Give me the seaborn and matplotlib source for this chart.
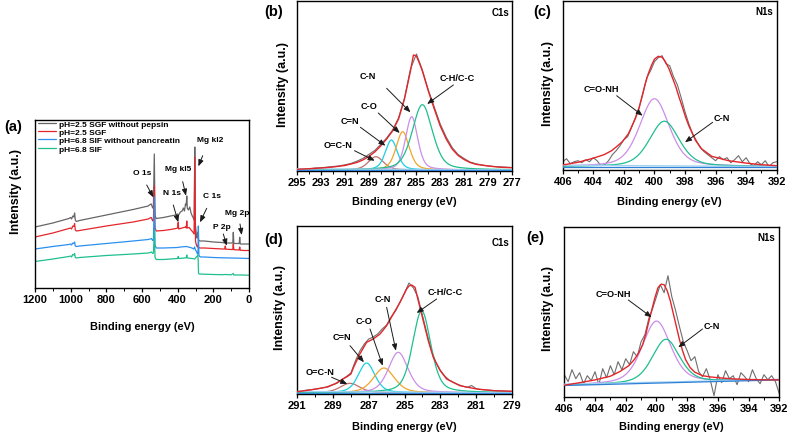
import numpy as np
import pandas as pd
import matplotlib
matplotlib.use("Agg")
import matplotlib.pyplot as plt
import seaborn as sns

# ---------------------------------------------------------------- data
# (a) survey spectra, binding energy (eV) and intensity (a.u.)
samples = ["pH=2.5 SGF without pepsin", "pH=2.5 SGF",
           "pH=6.8 SIF without pancreatin", "pH=6.8 SIF"]
a_gray_E = [1200, 1100, 1010, 1000, 995, 988, 982, 978, 974, 968, 950, 800, 650, 565, 555, 548, 540, 536, 531, 527,
            520, 480, 440, 410, 400, 396, 385, 375, 368, 362, 356, 352, 349, 346, 340, 332, 325, 318, 312, 307,
            304, 301, 296, 292, 288, 286, 283, 275, 250, 200, 150, 136, 133, 130, 100, 91, 88, 85, 55, 52, 49, 30, 0]
a_gray_I = [61, 65, 69.5, 70.5, 69, 72, 71, 75, 68, 66.5, 67.5, 73, 78.5, 82, 83.5, 84, 80, 82, 134, 72,
            69.5, 70.5, 72, 73, 74, 72.5, 76, 77, 80, 77, 84, 83, 92, 80, 78, 81, 75, 72, 70, 68,
            141, 64, 55, 50, 52, 56, 48, 47, 47, 46, 45.5, 45, 47.5, 45, 45, 45, 55.7, 44.5, 44.5, 50.7, 44, 44, 44]
a_red_E = [1200, 1100, 1010, 1000, 995, 988, 982, 978, 974, 968, 950, 800, 650, 565, 555, 548, 540, 536, 531, 527,
           520, 480, 440, 410, 400, 397, 394, 385, 365, 356, 352, 349, 346, 335, 325, 315, 308, 304, 300, 295,
           290, 286, 283, 275, 250, 200, 150, 136, 133, 130, 100, 91, 88, 85, 55, 52, 49, 25, 0]
a_red_I = [51, 55, 59.5, 60, 59, 62, 61.5, 64.5, 58, 57, 57.5, 62, 66, 69, 70, 70.5, 67, 68, 102, 60,
           57, 57.5, 58.5, 59.5, 60, 65.5, 59, 59.5, 60.5, 61, 60, 67, 60, 60.5, 58, 56, 54, 131, 47, 43,
           41, 43, 40.5, 40, 40, 39.5, 39, 39, 42, 38.8, 38.5, 38.5, 44, 38.3, 38, 41, 37.8, 37.5, 37.5]
a_blue_E = [1200, 1100, 1010, 1000, 995, 988, 982, 978, 974, 968, 950, 800, 650, 565, 555, 548, 540, 536, 531, 527,
            520, 480, 400, 385, 350, 340, 320, 310, 305, 300, 293, 289, 286, 284, 281, 277, 270, 250, 200, 150,
            100, 50, 0]
a_blue_I = [39, 41.5, 43.5, 44, 43, 45, 44.5, 46, 42, 41.5, 42, 44.5, 47, 48.5, 49, 49.5, 47.5, 48, 91, 43,
            40, 40, 40.5, 41, 41.5, 41, 40, 39, 41, 38, 36, 34, 36, 62, 33, 31.5, 31, 31, 30.5, 30.2,
            30, 29.8, 29.5]
a_green_E = [1200, 1100, 1010, 1000, 995, 988, 982, 978, 974, 968, 950, 800, 650, 565, 555, 548, 540, 536, 531, 527,
             520, 480, 440, 400, 397, 394, 360, 352, 349, 346, 320, 305, 300, 295, 290, 287, 285, 283, 280, 250,
             200, 150, 133, 100, 88, 85, 50, 0]
a_green_I = [26.5, 29, 31.5, 32, 31, 33.5, 33, 34.5, 30.5, 30, 30.5, 32.5, 34, 35, 35.5, 36, 34.5, 35, 58, 30.5,
             28.5, 28.5, 29, 29.5, 31.5, 29.5, 30, 30.2, 33, 30, 29.5, 29, 30, 31, 32, 33, 28, 15, 14, 13.8,
             13.5, 13.3, 13.5, 13.2, 14.5, 13, 13, 12.8]
a_ticks = [1200, 1000, 800, 600, 400, 200, 0]

# (b) C1s, pH=2.5
b_raw_I = [2.0, 2.5, 2.2, 3.0, 3.3, 3.8, 4.5, 5.0, 6.2, 7.5, 9.8, 12.5, 16.5, 20.5, 26.5, 33, 41, 53, 73, 102,
           117, 101, 81, 64, 47, 34, 23.5, 16.5, 12.5, 9, 7.2, 6, 5.2, 4.5, 4.2, 3.8, 3.5]      # 295 -> 277, 0.5 eV
b_env_E = [295, 294, 293, 292, 291, 290.5, 290, 289.5, 289, 288.5, 288, 287.5, 287, 286.5, 286, 285.75, 285.5,
           285.25, 285.0, 284.75, 284.5, 284.25, 284, 283.5, 283, 282.5, 282, 281.5, 281, 280.5, 280, 279, 278, 277]
b_env_I = [1.7, 2.3, 3.0, 4.0, 5.5, 7.0, 8.5, 11, 14.5, 19, 25, 32, 40, 52, 72, 86, 100,
           116, 115, 108, 100, 90, 80, 62, 45, 32, 22, 15.5, 11.5, 8.5, 6.7, 5, 3.8, 3.3]
c1s_names = ["O=C-N", "C=N", "C-O", "C-N", "C-H/C-C"]
b_center = [288.4, 287.1, 286.15, 285.4, 284.5]
b_height = [13.3, 30.0, 38.3, 53.3, 65.3]
b_fwhm = [1.5, 1.2, 1.3, 1.2, 2.0]
b_bg_E = [295, 277]
b_bg_light = [2.2, 1.0]
b_bg_dark = [1.0, 1.0]
b_ticks = [295, 293, 291, 289, 287, 285, 283, 281, 279, 277]

# (c) N1s, pH=2.5
c_raw_I = [8, 11, 6, 8, 9, 7, 10, 8, 12, 9, 4, 5, 9, 15, 19, 24, 30, 33, 42, 52,
           62, 76, 92, 99, 108, 112, 114, 106, 104, 93, 85, 72, 58, 46, 36, 29, 22, 18, 15, 12,
           9, 13, 10, 12, 7, 10, 14, 8, 12, 6, 4, 8, 5, 9, 3, 7, 8]                              # 406 -> 392, 0.25 eV
c_env_E = [406, 405, 404, 403.3, 402.8, 402.4, 402.1, 401.7, 401.25, 401.0, 400.8, 400.6, 400.4, 400.2, 400.0,
           399.75, 399.5, 399.3, 399.05, 398.8, 398.6, 398.4, 398.2, 397.95, 397.75, 397.3, 396.9, 396.25,
           395.15, 394.05, 393.0, 392.0]
c_env_I = [4.7, 7.4, 11.5, 15, 19, 24, 28, 36, 51, 62, 74, 86, 96, 104, 110.5,
           113.4, 112.5, 108.5, 101, 91, 83, 73, 64, 52, 44, 29, 20.7, 13.4,
           9, 6.7, 5, 4]
n1s_names = ["C=O-NH", "C-N"]
c_center = [400.0, 399.35]
c_height = [68.0, 45.5]
c_fwhm = [2.3, 2.3]
c_bg_E = [406, 392]
c_bg_light = [4.5, 3.2]
c_bg_dark = [3.0, 3.0]
n_ticks = [406, 404, 402, 400, 398, 396, 394, 392]

# (d) C1s, pH=6.8
d_raw_I = [2.5, 3.0, 3.8, 4.2, 4.8, 5.5, 6.5, 7.2, 9.5, 11, 14.5, 17.5, 21, 33, 43, 50, 55, 57, 60, 65,
           69, 77, 83, 92, 101, 111, 106, 97, 79, 61, 44, 32, 24, 18, 14, 11.5, 9.5, 8, 6.5, 8.5,
           5.5, 4.5, 4.2, 3.8, 3.5, 3.2, 3.0, 2.8, 2.6]                                            # 291 -> 279, 0.25 eV
d_env_E = [291, 290.3, 289.4, 288.9, 288.45, 288.2, 288.0, 287.85, 287.5, 287.12, 286.75, 286.37, 286.0,
           285.63, 285.25, 284.88, 284.75, 284.6, 284.41, 284.23, 283.95, 283.67, 283.39, 283.0, 282.64,
           281.9, 280.96, 280.0, 279.0]
d_env_I = [2.3, 4, 6.7, 10, 15, 17.5, 20, 26.7, 40, 51.7, 55, 60, 68.3,
           80, 91.7, 105, 108, 109, 106.7, 93.3, 73.3, 53.3, 36.7, 23.3, 15,
           8.3, 5, 3.3, 2.7]
d_center = [288.05, 287.12, 286.15, 285.35, 284.04]
d_height = [9.5, 29.8, 24.8, 40.5, 82.0]
d_fwhm = [1.3, 1.1, 1.4, 1.3, 1.2]
d_bg_E = [291, 279]
d_bg_light = [2.5, 1.2]
d_bg_dark = [1.2, 1.2]
d_ticks = [291, 289, 287, 285, 283, 281, 279]

# (e) N1s, pH=6.8
e_raw_I = [22, 15, 27, 18, 24, 13, 21, 16, 25, 12, 28, 19, 31, 22, 35, 27, 38, 32, 45, 40,
           55, 62, 78, 88, 100, 112, 104, 121, 100, 86, 70, 55, 46, 36, 40, 25, 20, 28, 17, 1,
           22, 14, 26, 18, 21, 12, 24, 20, 15, 27, 18, 13, 22, 17, 21, 15, 3]                      # 406 -> 392, 0.25 eV
e_env_E = [406, 405, 404, 403, 402.4, 401.8, 401.45, 401.15, 400.9, 400.7, 400.5, 400.3, 400.1, 399.9, 399.7,
           399.5, 399.3, 399.1, 398.9, 398.7, 398.5, 398.3, 398.1, 397.8, 397.5, 397.0, 396.5, 396.0, 395.0,
           394.0, 393.0, 392.0]
e_env_I = [11.5, 14, 16.8, 20.5, 25, 31, 37, 44, 52, 62, 75, 87, 99, 109, 112.5,
           112, 106, 96, 83, 70, 57, 46, 37, 29, 24.5, 21, 19.8, 19, 17.8,
           17.2, 16.9, 16.8]
e_center = [400.0, 399.38]
e_height = [62.0, 43.6]
e_fwhm = [2.2, 2.1]
e_bg_E = [406, 392]
e_bg_light = [12.5, 17.2]
e_bg_dark = [11.2, 16.8]

# ---------------------------------------------------------------- style
sns.set_theme(style="ticks")
plt.rcParams["font.family"] = ["Liberation Sans", "DejaVu Sans"]
plt.rcParams.update({
    "font.weight": "bold", "axes.labelweight": "bold", "axes.linewidth": 1.0,
    "axes.edgecolor": "black", "xtick.color": "black", "ytick.color": "black",
    "text.color": "black", "axes.labelcolor": "black",
})

RAW = "#6e6e6e"
ENV = "#e3262b"
COMP = ["#c07272", "#1dcfe0", "#f0a52c", "#cc8ee8", "#1fbf8f"]
NCOMP = ["#cc8ee8", "#1fbf8f"]
BGL = "#a3d3f2"
BGD = "#2f80d6"
SURV = ["#666666", "#e3262b", "#2b8ff0", "#1fbf8f"]

W, H = 789, 435
fig = plt.figure(figsize=(W / 100, H / 100), dpi=100)


def add_ax(x0, y0, x1, y1):
    return fig.add_axes([x0 / W, 1 - y1 / H, (x1 - x0) / W, (y1 - y0) / H])


def line(ax, x, y, color, lw=0.9, z=2):
    sns.lineplot(x=np.asarray(x, float), y=np.asarray(y, float), ax=ax, color=color, lw=lw,
                 sort=False, estimator=None, legend=False, zorder=z)


def pv(E, c, h, w, eta=0.4):
    x = (E - c) / (w / 2.0)
    return h * (eta / (1 + x ** 2) + (1 - eta) * np.exp(-np.log(2) * x ** 2))


def style(ax, xlim, ytop, ticks, minor, xl_off, yl_x, yl_y):
    ax.set_xlim(*xlim)
    ax.set_ylim(0, ytop)
    ax.set_xticks(ticks)
    ax.set_xticks(minor, minor=True)
    ax.set_yticks([])
    ax.tick_params(axis="x", which="major", direction="out", length=3, width=0.9,
                   labelsize=8, pad=1.5)
    ax.tick_params(axis="x", which="minor", direction="out", length=1.8, width=0.7)
    for s in ax.spines.values():
        s.set_visible(True)
        s.set_linewidth(1.0)
        s.set_color("black")
    ax.set_xlabel("Binding energy (eV)", fontsize=7.9, fontweight="bold")
    ax.xaxis.label.set_va("center")
    ax.xaxis.set_label_coords(0.5, xl_off)
    ax.set_ylabel("Intensity (a.u.)", fontsize=9, fontweight="bold")
    ax.yaxis.label.set_va("center")
    ax.yaxis.set_label_coords(yl_x, yl_y)


def arrow(ax, tail, head):
    ax.annotate("", xy=head, xytext=tail,
                arrowprops=dict(arrowstyle="-|>,head_length=0.55,head_width=0.22", color="#1a1a1a",
                                lw=0.7, shrinkA=0, shrinkB=0, mutation_scale=7), zorder=6)


def label(ax, text, pos, size=6.6):
    ax.text(pos[0], pos[1], text, fontsize=size, fontweight="bold", ha="center", va="center", zorder=6)


def ptext(x, y, s, size=10.5, ha="center"):
    fig.text(x / W, 1 - y / H, s, fontsize=size, fontweight="bold", ha=ha, va="center")


def fit_panel(ax, raw_E, raw_I, env_E, env_I, centers, heights, fwhms, colors, bgE, bgl, bgd, lo, hi):
    line(ax, raw_E, raw_I, RAW, lw=0.8, z=2)
    grid = np.linspace(lo, hi, 500)
    base = np.interp(grid, bgE[::-1], bgd[::-1])
    for c, h, w, col in zip(centers, heights, fwhms, colors):
        line(ax, grid, base + pv(grid, c, h, w), col, lw=0.9, z=3)
    line(ax, bgE, bgl, BGL, lw=1.0, z=3)
    line(ax, bgE, bgd, BGD, lw=0.9, z=3)
    line(ax, env_E, env_I, ENV, lw=1.0, z=4)


# ---------------------------------------------------------------- (a)
axA = add_ax(35, 121, 249, 289)
frames = []
for name, E, I in zip(samples, [a_gray_E, a_red_E, a_blue_E, a_green_E],
                      [a_gray_I, a_red_I, a_blue_I, a_green_I]):
    frames.append(pd.DataFrame({"E": E, "I": I, "Sample": name}))
dfA = pd.concat(frames, ignore_index=True)
sns.lineplot(data=dfA, x="E", y="I", hue="Sample", hue_order=samples, palette=SURV,
             sort=False, estimator=None, lw=0.9, ax=axA)
style(axA, (1200, 0), 168, a_ticks, np.arange(0, 1201, 100), -38 / 168, -19 / 214, 0.583)
h, l = axA.get_legend_handles_labels()
axA.legend(h, l, loc="upper left", bbox_to_anchor=(0.0, 1.02), frameon=False,
           handlelength=2.1, handletextpad=0.4, labelspacing=0.05, borderaxespad=0.0,
           prop={"weight": "bold", "size": 6.0})
ann_a = [("O 1s", (601.7, 115.7), (573.6, 103), (536.6, 90.7)),
         ("N 1s", (433.4, 95.7), (424.5, 83), (396.4, 65.7)),
         ("Mg kl5", (396.4, 119.7), (371.8, 106.3), (353.3, 92.3)),
         ("Mg kl2", (218.7, 149), (259.6, 132.3), (284.0, 121.7)),
         ("C 1s", (209.1, 92.3), (237.2, 79.7), (274.7, 65.7)),
         ("P 2p", (153.0, 61.3), (144.0, 54.0), (125.0, 42.3)),
         ("Mg 2p", (65.6, 75.7), (50.5, 64.0), (41.0, 53.0))]
for t, p, tail, head in ann_a:
    label(axA, t, p, size=6.0)
    arrow(axA, tail, head)
ptext(13, 127, "(a)")

# ---------------------------------------------------------------- (b)
axB = add_ax(297.3, 1.5, 511.7, 172)
fit_panel(axB, np.arange(295, 276.9, -0.5), b_raw_I, b_env_E, b_env_I, b_center, b_height, b_fwhm,
          COMP, b_bg_E, b_bg_light, b_bg_dark, 277, 295)
style(axB, (295, 277), 170.5, b_ticks, np.arange(277, 296, 1), -30 / 170.5, -0.068, 0.516)
for t, p, tail, head in [("C-N", (289.1, 95.3), (287.5, 82.7), (285.5, 58.7)),
                         ("C-O", (289.0, 66.0), (288.2, 58.0), (286.4, 38.0)),
                         ("C=N", (290.6, 50.3), (289.7, 43.7), (287.6, 25.3)),
                         ("O=C-N", (291.6, 26.3), (290.2, 20.3), (288.5, 10.3)),
                         ("C-H/C-C", (281.6, 93.7), (281.9, 86.0), (284.1, 67.0))]:
    label(axB, t, p)
    arrow(axB, tail, head)
ptext(274, 11.7, "(b)")
ptext(509.5, 12.7, "C1s", size=7, ha="right")

# ---------------------------------------------------------------- (c)
axC = add_ax(562.7, 2, 776.7, 170.7)
fit_panel(axC, np.arange(406, 391.9, -0.25), c_raw_I, c_env_E, c_env_I, c_center, c_height, c_fwhm,
          NCOMP, c_bg_E, c_bg_light, c_bg_dark, 392, 406)
style(axC, (406, 392), 168.7, n_ticks, np.arange(392, 407, 1), -31 / 168.7, -0.067, 0.514)
for t, p, tail, head in [("C=O-NH", (403.45, 80.7), (402.47, 74.0), (400.77, 54.0)),
                         ("C-N", (395.6, 52.4), (396.19, 47.4), (398.0, 27.4))]:
    label(axC, t, p)
    arrow(axC, tail, head)
ptext(541.7, 11.7, "(c)")
ptext(773.5, 11.7, "N1s", size=7, ha="right")

# ---------------------------------------------------------------- (d)
axD = add_ax(297.3, 226.7, 511.7, 395)
fit_panel(axD, np.arange(291, 278.9, -0.25), d_raw_I, d_env_E, d_env_I, d_center, d_height, d_fwhm,
          COMP, d_bg_E, d_bg_light, d_bg_dark, 279, 291)
style(axD, (291, 279), 168.3, d_ticks, np.arange(279, 292, 1), -32 / 168.3, -0.081, 0.517)
for t, p, tail, head in [("O=C-N", (289.73, 22.7), (289.08, 16.7), (288.2, 10.0)),
                         ("C=N", (288.52, 57.3), (288.05, 48.3), (287.27, 31.7)),
                         ("C-O", (287.27, 73.3), (286.93, 65.0), (286.22, 28.3)),
                         ("C-N", (286.22, 96.0), (286.0, 86.7), (285.48, 43.3)),
                         ("C-H/C-C", (282.73, 102.7), (283.2, 95.0), (284.32, 81.0))]:
    label(axD, t, p)
    arrow(axD, tail, head)
ptext(273.3, 240, "(d)")
ptext(509.5, 243.3, "C1s", size=7, ha="right")

# ---------------------------------------------------------------- (e)
axE = add_ax(564.3, 227.7, 779.3, 397.7)
fit_panel(axE, np.arange(406, 391.9, -0.25), e_raw_I, e_env_E, e_env_I, e_center, e_height, e_fwhm,
          NCOMP, e_bg_E, e_bg_light, e_bg_dark, 392, 406)
style(axE, (406, 392), 170, n_ticks, np.arange(392, 407, 1), -29.3 / 170, -0.074, 0.526)
for t, p, tail, head in [("C=O-NH", (402.81, 103.4), (401.83, 96.7), (400.31, 79.4)),
                         ("C-N", (396.4, 71.0), (397.0, 67.7), (398.58, 49.4))]:
    label(axE, t, p)
    arrow(axE, tail, head)
ptext(535, 238.3, "(e)")
ptext(775.5, 237.7, "N1s", size=7, ha="right")

fig.savefig("out.png", dpi=100)
